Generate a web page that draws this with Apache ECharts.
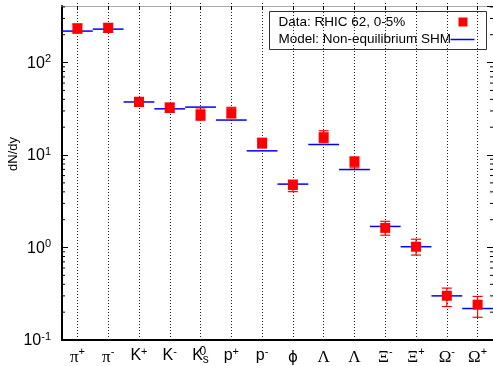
<!DOCTYPE html>
<html>
<head>
<meta charset="UTF-8">
<title>dN/dy</title>
<script src="https://cdn.jsdelivr.net/npm/echarts@6/dist/echarts.min.js"></script>
<style>
  html, body { margin: 0; padding: 0; background: #fff; }
  #chart { width: 493px; height: 366px; }
</style>
</head>
<body>
<div id="chart"></div>
<script>
// particle species (x categories) and their tick labels (rich text)
var categories = ['pi+', 'pi-', 'K+', 'K-', 'K0s', 'p+', 'p-', 'phi', 'Lambda', 'AntiLambda', 'Xi-', 'Xi+', 'Omega-', 'Omega+'];
var tickLabels = ['{g|π}{sup|+}', '{g|π}{sup|-}', 'K{sup|+}', 'K{sup|-}', 'K{sup0|0}{sub|s}', 'p{sup|+}', 'p{sup|-}',
  '{phi|ϕ}', '{g|Λ}', '{g|Λ}', '{g|Ξ}{sup|-}', '{g|Ξ}{sup|+}', '{g|Ω}{sup|-}', '{g|Ω}{sup|+}'];

// Data: RHIC 62, 0-5%
var dataVals = [234, 238, 37.7, 32.4, 27.1, 28.4, 13.5, 4.73, 15.6, 8.43, 1.63, 1.02, 0.301, 0.241];
var errLow   = [208, 212, 33.6, 29.0, 23.8, 25.2, 11.9, 4.02, 13.6, 7.27, 1.36, 0.829, 0.230, 0.176];
var errHigh  = [261, 261, 41.5, 36.5, 31.4, 32.8, 15.2, 5.36, 18.3, 9.55, 1.92, 1.23, 0.364, 0.296];

// Model: Non-equilibrium SHM
var modelVals = [219, 230, 37.5, 31.6, 33.0, 23.9, 11.1, 4.85, 13.0, 6.97, 1.69, 1.02, 0.30, 0.219];

// minor ticks of the log axis
var minorTicks = [0.2, 0.3, 0.4, 0.5, 0.6, 0.7, 0.8, 0.9, 2, 3, 4, 5, 6, 7, 8, 9,
  20, 30, 40, 50, 60, 70, 80, 90, 200, 300, 400];

var yMin = 0.1, yMax = 409;

var chart = echarts.init(document.getElementById('chart'), null, { renderer: 'canvas' });

function decadeLabel(v) {
  var e = Math.log10(v);
  if (Math.abs(e - Math.round(e)) > 1e-6) return '';
  return '{b|10}{e|' + Math.round(e) + '}';
}

var option = {
  animation: false,
  backgroundColor: '#fff',
  grid: { left: 62, right: 0, top: 6, bottom: 23 },
  xAxis: [{
    type: 'category',
    data: categories,
    position: 'bottom',
    axisLine: { show: true, lineStyle: { color: '#000', width: 2 } },
    axisTick: { show: true, interval: 0, alignWithLabel: true, inside: true, length: 337,
      lineStyle: { color: '#222', width: 1, type: [1, 2] } },
    splitLine: { show: false },
    axisLabel: {
      interval: 0,
      margin: 6,
      color: '#000',
      formatter: function (v, i) { return tickLabels[i]; },
      rich: {
        g: { fontFamily: 'Liberation Serif', fontSize: 17, color: '#000', lineHeight: 20, verticalAlign: 'bottom' },
        phi: { fontFamily: 'DejaVu Sans', fontSize: 15, color: '#000', lineHeight: 20, verticalAlign: 'bottom' },
        sup: { fontFamily: 'Liberation Sans', fontSize: 11, color: '#000', lineHeight: 20, verticalAlign: 'top', padding: [0, 0, 4, 0] },
        sup0: { fontFamily: 'Liberation Sans', fontSize: 12, color: '#000', lineHeight: 20, verticalAlign: 'top', width: 0 },
        sub: { fontFamily: 'Liberation Sans', fontSize: 12, color: '#000', lineHeight: 20, verticalAlign: 'bottom', padding: [6, 0, 0, 0] }
      },
      fontFamily: 'Liberation Sans',
      fontSize: 16,
      lineHeight: 20
    }
  }, {
    type: 'category',
    data: categories,
    position: 'top',
    axisLine: { show: true, lineStyle: { color: '#aaa', width: 1 } },
    axisTick: { show: true, interval: 0, alignWithLabel: true, inside: true, length: 4, lineStyle: { color: '#000' } },
    axisLabel: { show: false }
  }],
  yAxis: [{
    type: 'log',
    min: yMin,
    max: yMax,
    position: 'left',
    axisLine: { show: true, lineStyle: { color: '#000', width: 2 } },
    axisTick: { show: true, inside: true, length: 6, lineStyle: { color: '#000' } },
    splitLine: { show: false },
    axisLabel: {
      margin: 11,
      showMaxLabel: false,
      formatter: decadeLabel,
      rich: {
        b: { fontFamily: 'Liberation Sans', fontSize: 16, color: '#000', lineHeight: 18, verticalAlign: 'bottom' },
        e: { fontFamily: 'Liberation Sans', fontSize: 11, color: '#000', lineHeight: 18, verticalAlign: 'top' }
      }
    }
  }, {
    type: 'log',
    min: yMin,
    max: yMax,
    position: 'right',
    axisLine: { show: false },
    axisTick: { show: true, inside: true, length: 6, lineStyle: { color: '#000' } },
    splitLine: { show: false },
    axisLabel: { show: false }
  }],
  series: [{
    // minor ticks on both sides
    type: 'custom',
    silent: true,
    z: 3,
    data: minorTicks.map(function (v) { return [0, v]; }),
    renderItem: function (params, api) {
      var y = api.coord([0, api.value(1)])[1];
      var cs = params.coordSys;
      return {
        type: 'group',
        children: [
          { type: 'line', shape: { x1: cs.x, y1: y, x2: cs.x + 3, y2: y }, style: { stroke: '#000', lineWidth: 1 } },
          { type: 'line', shape: { x1: cs.x + cs.width - 3, y1: y, x2: cs.x + cs.width, y2: y }, style: { stroke: '#000', lineWidth: 1 } }
        ]
      };
    }
  }, {
    name: 'Model: Non-equilibrium SHM',
    type: 'custom',
    z: 4,
    data: modelVals.map(function (v, i) { return [i, v]; }),
    renderItem: function (params, api) {
      var p = api.coord([api.value(0), api.value(1)]);
      var w = api.size([1, 0])[0];
      return {
        type: 'line',
        shape: { x1: p[0] - w / 2, y1: p[1], x2: p[0] + w / 2, y2: p[1] },
        style: { stroke: '#0000ff', lineWidth: 1.5 }
      };
    }
  }, {
    name: 'errors',
    type: 'custom',
    z: 5,
    data: dataVals.map(function (v, i) { return [i, errLow[i], errHigh[i]]; }),
    renderItem: function (params, api) {
      var lo = api.coord([api.value(0), api.value(1)]);
      var hi = api.coord([api.value(0), api.value(2)]);
      var c = 5;
      var st = { stroke: '#ff0000', lineWidth: 1.2 };
      return {
        type: 'group',
        children: [
          { type: 'line', shape: { x1: lo[0], y1: lo[1], x2: hi[0], y2: hi[1] }, style: st },
          { type: 'line', shape: { x1: lo[0] - c, y1: lo[1], x2: lo[0] + c, y2: lo[1] }, style: st },
          { type: 'line', shape: { x1: hi[0] - c, y1: hi[1], x2: hi[0] + c, y2: hi[1] }, style: st }
        ]
      };
    }
  }, {
    name: 'Data: RHIC 62, 0-5%',
    type: 'scatter',
    z: 6,
    symbol: 'rect',
    symbolSize: 10,
    itemStyle: { color: '#ff0000', opacity: 1 },
    data: dataVals.map(function (v, i) { return [i, v]; })
  }],
  graphic: [{
    type: 'text',
    left: 7, top: 137,
    rotation: Math.PI / 2,
    style: { text: 'dN/dy', fontFamily: 'Liberation Sans', fontSize: 13, fill: '#000' }
  }, {
    type: 'group',
    left: 269, top: 11,
    z: 100,
    children: [
      { type: 'rect', shape: { x: 0, y: 0, width: 217, height: 38 }, style: { fill: '#fff', stroke: '#333', lineWidth: 1 } },
      { type: 'text', x: 9, y: 11, style: { text: 'Data: RHIC 62, 0-5%', fontFamily: 'Liberation Sans', fontSize: 13.5, fill: '#000', verticalAlign: 'middle' } },
      { type: 'text', x: 9, y: 28, style: { text: 'Model: Non-equilibrium SHM', fontFamily: 'Liberation Sans', fontSize: 13.5, fill: '#000', verticalAlign: 'middle' } },
      { type: 'rect', shape: { x: 189, y: 6, width: 9, height: 9 }, style: { fill: '#ff0000' } },
      { type: 'line', shape: { x1: 181, y1: 28, x2: 205, y2: 28 }, style: { stroke: '#0000ff', lineWidth: 1.5 } }
    ]
  }]
};

chart.setOption(option);
</script>
</body>
</html>
